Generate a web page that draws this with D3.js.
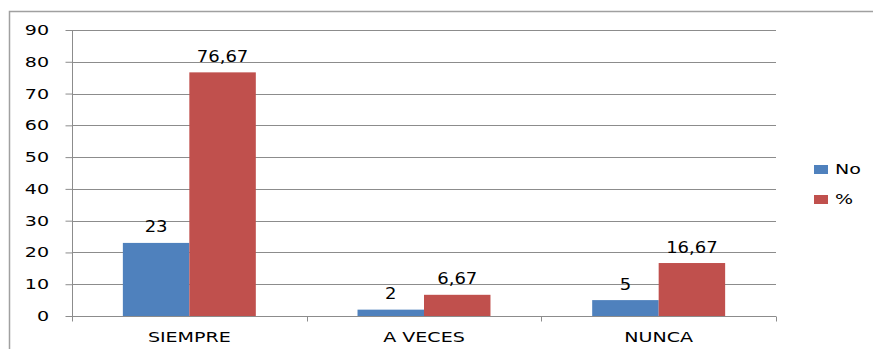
<!DOCTYPE html>
<html><head><meta charset="utf-8">
<script src="https://cdn.jsdelivr.net/npm/d3@7"></script>
<style>html,body{margin:0;padding:0;background:#fff;}svg{display:block;}</style>
</head><body>
<svg id="chart" width="873" height="349"></svg>
<script>
const categories = ["SIEMPRE", "A VECES", "NUNCA"];
const seriesNames = ["No", "%"];
const valuesNo = [23, 2, 5];
const valuesPct = [76.67, 6.67, 16.67];
const labelsNo = ["23", "2", "5"];
const labelsPct = ["76,67", "6,67", "16,67"];
const yTicks = [0, 10, 20, 30, 40, 50, 60, 70, 80, 90];
const colors = ["#4f81bd", "#c0504d"];

const svg = d3.select("#chart");
const font = "DejaVu Sans, Verdana, sans-serif";
const SX = 1.36;

// outer border
svg.append("rect").attr("x", 9.5).attr("y", 11.5).attr("width", 900).attr("height", 400)
  .attr("fill", "none").attr("stroke", "#a0a0a0").attr("stroke-width", 1.5);

const x0 = d3.scaleBand().domain(categories).range([72, 776]).paddingInner(0).paddingOuter(0);
const x1 = d3.scaleBand().domain(seriesNames).range([0, x0.bandwidth()]).paddingInner(0).paddingOuter(0.765);
const y = d3.scaleLinear().domain([0, 90]).range([316, 30]);

// gridlines
svg.append("g").selectAll("line").data(yTicks.filter(d => d > 0)).join("line")
  .attr("x1", 72).attr("x2", 776).attr("y1", d => Math.round(y(d)) + 0.5).attr("y2", d => Math.round(y(d)) + 0.5)
  .attr("stroke", "#8c8c8c").attr("stroke-width", 1);

// y axis
const yAxis = svg.append("g").attr("transform", "translate(72.5,0)")
  .call(d3.axisLeft(y).tickValues(yTicks).tickSize(7).tickFormat(""));
yAxis.select(".domain").attr("stroke", "#8c8c8c").attr("d", "M0,30V321");
yAxis.selectAll(".tick line").attr("stroke", "#8c8c8c");
svg.append("g").selectAll("text").data(yTicks).join("text")
  .attr("transform", d => `translate(49,${y(d) + 5}) scale(${SX},1)`)
  .attr("text-anchor", "end").attr("font-family", font).attr("font-size", 14).attr("fill", "#000")
  .text(d => d);

// x axis
const xAxis = svg.append("g").attr("transform", "translate(0,316.5)")
  .call(d3.axisBottom(x0).tickSize(0).tickFormat(""));
xAxis.select(".domain").attr("stroke", "#8c8c8c").attr("d", "M72,0H776");
xAxis.selectAll(".tick").remove();
const bounds = [72, ...categories.map(c => x0(c) + x0.bandwidth())];
xAxis.selectAll("line.t").data(bounds).join("line").attr("class", "t")
  .attr("x1", d => Math.round(d) + 0.5).attr("x2", d => Math.round(d) + 0.5).attr("y1", 0).attr("y2", 5)
  .attr("stroke", "#8c8c8c");
svg.append("g").selectAll("text").data(categories).join("text")
  .attr("transform", d => `translate(${x0(d) + x0.bandwidth() / 2},342) scale(${SX},1)`)
  .attr("text-anchor", "middle").attr("font-family", font).attr("font-size", 14).attr("fill", "#000")
  .text(d => d);

// bars
const seriesData = [valuesNo, valuesPct];
const seriesLabels = [labelsNo, labelsPct];
seriesNames.forEach((s, si) => {
  const g = svg.append("g");
  g.selectAll("rect").data(categories).join("rect")
    .attr("x", c => x0(c) + x1(s)).attr("width", x1.bandwidth())
    .attr("y", (c, i) => y(seriesData[si][i])).attr("height", (c, i) => y(0) - y(seriesData[si][i]))
    .attr("fill", colors[si]);
  g.selectAll("text").data(categories).join("text")
    .attr("transform", (c, i) => `translate(${x0(c) + x1(s) + x1.bandwidth() / 2},${y(seriesData[si][i]) - 10.5}) scale(1.2,1)`)
    .attr("text-anchor", "middle").attr("font-family", font).attr("font-size", 15).attr("fill", "#000")
    .text((c, i) => seriesLabels[si][i]);
});

// legend
const lg = svg.append("g");
seriesNames.forEach((s, i) => {
  lg.append("rect").attr("x", 814).attr("y", 165 + i * 30).attr("width", 14).attr("height", 9).attr("fill", colors[i]);
  lg.append("text").attr("transform", `translate(835,${174 + i * 30}) scale(${SX},1)`)
    .attr("font-family", font).attr("font-size", 14).attr("fill", "#000").text(s);
});
</script>
</body></html>
